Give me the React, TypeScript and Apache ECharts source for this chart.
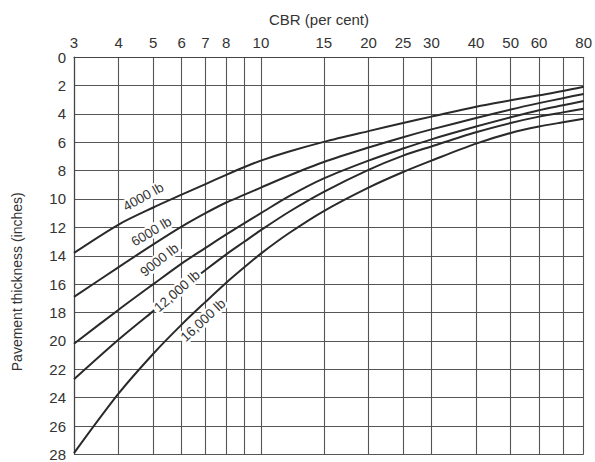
import React, { useEffect, useRef } from "react";
import * as echarts from "echarts";

// CBR (per cent) sample points along the curves
const cbrPoints = [3, 4, 5, 6, 7, 8, 9, 10, 12, 15, 20, 25, 30, 40, 50, 60, 70, 80];

// Pavement thickness (inches) for each wheel load
const load4000 = [13.8, 11.8, 10.6, 9.7, 8.95, 8.3, 7.75, 7.3, 6.66, 5.98, 5.22, 4.65, 4.2, 3.5, 3.05, 2.7, 2.4, 2.1];
const load6000 = [16.9, 14.8, 13.2, 11.95, 11.0, 10.25, 9.7, 9.2, 8.35, 7.4, 6.38, 5.65, 5.1, 4.3, 3.7, 3.25, 2.9, 2.6];
const load9000 = [20.2, 17.8, 16.0, 14.55, 13.45, 12.5, 11.7, 11.0, 9.8, 8.55, 7.3, 6.45, 5.8, 4.9, 4.25, 3.75, 3.4, 3.1];
const load12000 = [22.7, 19.9, 17.9, 16.3, 15.0, 13.9, 13.0, 12.2, 10.9, 9.5, 7.95, 6.95, 6.3, 5.3, 4.65, 4.2, 3.9, 3.65];
const load16000 = [27.9, 23.7, 20.9, 18.85, 17.25, 15.9, 14.8, 13.85, 12.4, 10.85, 9.2, 8.1, 7.3, 6.1, 5.35, 4.9, 4.6, 4.35];

const seriesNames = ["4000 lb", "6000 lb", "9000 lb", "12,000 lb", "16,000 lb"];
const seriesValues = [load4000, load6000, load9000, load12000, load16000];

// Axis ticks
const cbrGridTicks = [3, 4, 5, 6, 7, 8, 9, 10, 15, 20, 25, 30, 40, 50, 60, 70, 80];
const cbrTickLabels = [3, 4, 5, 6, 7, 8, 10, 15, 20, 25, 30, 40, 50, 60, 80];

// Curve label anchors (CBR, thickness) and rotation
const labelCbr = [4.69, 4.94, 5.2, 5.83, 6.89];
const labelThk = [9.85, 12.3, 14.3, 16.5, 18.55];
const labelRot = [29, 31, 38, 41, 43];

const FONT = "'Liberation Sans', Arial, sans-serif";
const TEXT = "#333";

export default function App() {
  const ref = useRef<HTMLDivElement>(null);
  useEffect(() => {
    if (!ref.current) return;
    const chart = echarts.init(ref.current, undefined, { renderer: "svg" });
    const series = seriesNames.map((name, i) => ({
      type: "line",
      name,
      data: cbrPoints.map((c, j) => [c, seriesValues[i][j]]),
      symbol: "none",
      smooth: 0.3,
      lineStyle: { color: "#2a2a2a", width: 2 },
      z: 3,
      markPoint: {
        symbol: "circle",
        symbolSize: 1,
        itemStyle: { color: "rgba(0,0,0,0)" },
        label: {
          show: true,
          position: "inside",
          formatter: name,
          rotate: labelRot[i],
          fontSize: 13.5,
          fontFamily: FONT,
          color: TEXT,
          backgroundColor: "#fff",
          padding: [0, 2],
        },
        data: [{ coord: [labelCbr[i], labelThk[i]] }],
      },
    }));
    chart.setOption({
      animation: false,
      title: {
        text: "CBR (per cent)",
        left: 264,
        top: 7,
        textStyle: { fontSize: 15, fontWeight: "normal", color: TEXT, fontFamily: FONT },
      },
      grid: { left: 74, right: 8, top: 57, bottom: 5 },
      xAxis: {
        type: "log",
        logBase: 10,
        min: 3,
        max: 80,
        position: "top",
        axisLine: { show: true, lineStyle: { color: "#444", width: 1.2 } },
        axisTick: { show: false, customValues: cbrGridTicks },
        axisLabel: {
          customValues: cbrTickLabels,
          fontSize: 15,
          color: TEXT,
          fontFamily: FONT,
          margin: 7,
          formatter: (v: number) => String(Math.round(v)),
        },
        splitLine: { show: true, lineStyle: { color: "#555", width: 1.1 } },
        minorSplitLine: { show: false },
      },
      yAxis: {
        type: "value",
        inverse: true,
        min: 0,
        max: 28,
        interval: 2,
        name: "Pavement thickness (inches)",
        nameLocation: "middle",
        nameGap: 50,
        nameTextStyle: { fontSize: 14, color: TEXT, fontFamily: FONT, padding: [0, 52, 0, 0] },
        axisLine: { show: true, lineStyle: { color: "#444", width: 1.2 } },
        axisTick: { show: false },
        axisLabel: { fontSize: 15, color: TEXT, fontFamily: FONT, margin: 8 },
        splitLine: { show: true, lineStyle: { color: "#555", width: 1.1 } },
      },
      series,
    });
    return () => chart.dispose();
  }, []);
  return (
    <div
      ref={ref}
      style={{ position: "absolute", left: 0, top: 0, width: 595, height: 462, background: "#fff" }}
    />
  );
}
